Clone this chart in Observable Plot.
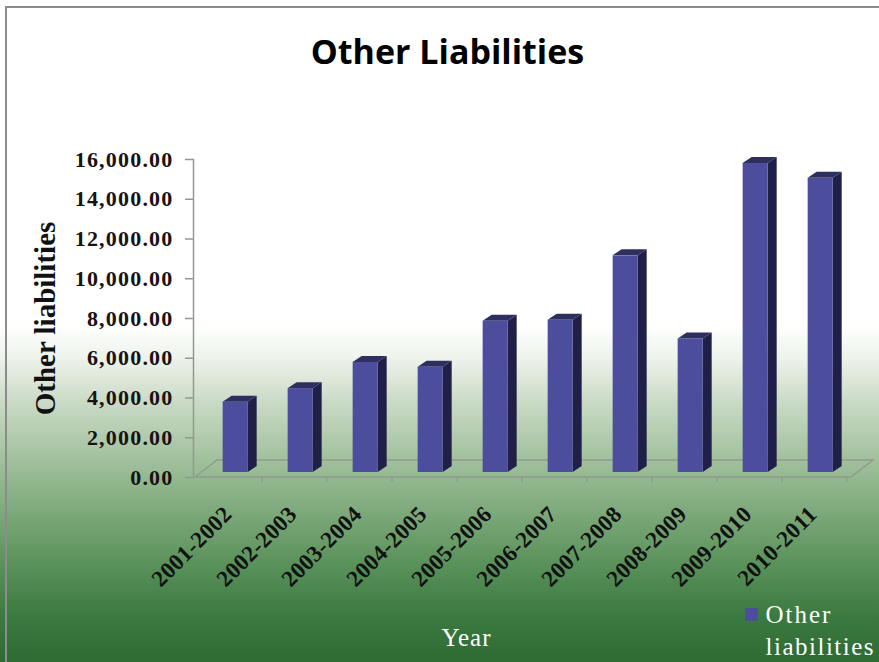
<!DOCTYPE html>
<html><head><meta charset="utf-8">
<script src="https://cdn.jsdelivr.net/npm/d3@7"></script>
<script src="https://cdn.jsdelivr.net/npm/@observablehq/plot@0.6"></script>
<style>
html,body{margin:0;padding:0;background:#fff;}
#wrap{position:relative;width:879px;height:662px;overflow:hidden;
background:linear-gradient(to bottom,#ffffff 0%,#ffffff 49%,#eef3ec 54%,#c9d9c4 61%,#95b991 72%,#5f955f 84%,#3b7a40 93%,#2e6b33 100%);}
#border{position:absolute;left:5px;top:6px;width:900px;height:700px;border-left:2px solid #8c8c8c;border-top:2px solid #8c8c8c;}
#wrap svg{position:absolute;left:0;top:0;background:transparent;}
</style></head><body><div id="wrap"><div id="border"></div></div>
<script>
const years = ["2001-2002","2002-2003","2003-2004","2004-2005","2005-2006","2006-2007","2007-2008","2008-2009","2009-2010","2010-2011"];
const values = [3540,4220,5540,5300,7610,7660,10900,6720,15550,14800];
const yTicks = [0,2000,4000,6000,8000,10000,12000,14000,16000];
const title = "Other Liabilities";
const xTitle = "Year";
const yTitle = "Other liabilities";
const legendLines = ["Other","liabilities"];

const data = years.map((year,i)=>({year, value: values[i]}));

const FRONT="#4d4d9e", SIDE="#1f1f48", TOP="#2f2f5f";

function bars3d(index, scales, channels, dimensions, context) {
  const g = d3.create("svg:g");
  const bw = scales.x.bandwidth();
  const dx = 9, dy = 6;
  for (const i of index) {
    const xl = channels.x[i] + bw*0.41;
    const w = bw*0.385;
    const base = channels.y1[i] - 5;
    const top = channels.y2[i] - 5;
    g.append("path").attr("d",`M${xl+w},${base}L${xl+w+dx},${base-dy}L${xl+w+dx},${top-dy}L${xl+w},${top}Z`).attr("fill",SIDE);
    g.append("path").attr("d",`M${xl},${top}L${xl+dx},${top-dy}L${xl+w+dx},${top-dy}L${xl+w},${top}Z`).attr("fill",TOP);
    g.append("rect").attr("x",xl).attr("y",top).attr("width",w).attr("height",base-top).attr("fill",FRONT);
  }
  return g.node();
}

function floor(index, scales, channels, dimensions, context) {
  const g = d3.create("svg:g").attr("fill","none").attr("stroke","#8f9c8c").attr("stroke-width",1.5);
  const y0 = scales.y(0);
  const [xa, xb] = scales.x.range();
  const bw = scales.x.bandwidth();
  const ox = 22, oy = 17;
  g.append("path").attr("d",`M${xa+2},${y0}L${xa+2+ox},${y0-oy}L${xb+2+ox},${y0-oy}L${xb+2},${y0}Z`);
  for (const c of scales.x.domain()) {
    const xe = scales.x(c) + bw + 1;
    g.append("line").attr("x1",xe).attr("x2",xe).attr("y1",y0).attr("y2",y0+5);
  }
  return g.node();
}

const serif = "'Liberation Serif','Times New Roman',serif";

const chart = Plot.plot({
  width: 879, height: 662,
  marginTop: 159, marginBottom: 185, marginLeft: 193, marginRight: 30,
  style: {background: "transparent", overflow: "visible"},
  x: {domain: years, padding: 0, axis: null},
  y: {domain: [0, 16000], axis: null},
  marks: [
    Plot.ruleY([0], {render: floor}),
    Plot.frame({anchor: "left", stroke: "#8f9c8c", strokeWidth: 1.5}),
    Plot.axisY(yTicks, {tickSize: 8, text: null, label: null, stroke: "#8f9c8c", strokeWidth: 1.5}),
    Plot.axisY(yTicks, {tickSize: 0, tickPadding: 20, tickFormat: d3.format(",.2f"), fontSize: 22, fontWeight: "bold", fontFamily: serif, fill: "#1a1212", label: null}),
    Plot.axisX(years, {tickSize: 0, tickRotate: -45, tickPadding: 33, dx: -1, fontSize: 23, fontWeight: "bold", fontFamily: serif, fill: "#111", label: null}),
    Plot.barY(data, {x: "year", y: "value", render: bars3d}),
    Plot.text([title], {frameAnchor: "top", lineAnchor: "middle", dx: -74, dy: -106, fontSize: 34, fontWeight: "bold", fontFamily: "'Open Sans',sans-serif", fill: "#000"}),
    Plot.text([yTitle], {frameAnchor: "left", textAnchor: "middle", lineAnchor: "middle", rotate: -90, dx: -148, dy: 0, fontSize: 29, fontWeight: "bold", fontFamily: serif, fill: "#111"}),
    Plot.text([xTitle], {frameAnchor: "bottom", lineAnchor: "middle", dx: -55, dy: 160, fontSize: 25, fontFamily: serif, fill: "#fff"}),
    Plot.dot([0], {frameAnchor: "bottom-right", dx: -98, dy: 137, symbol: "square", r: 7.3, fill: FRONT, stroke: null}),
    Plot.text([legendLines[0]], {frameAnchor: "bottom-right", lineAnchor: "middle", dx: -84, dy: 137, textAnchor: "start", fontSize: 25, fontFamily: serif, fill: "#fff"}),
    Plot.text([legendLines[1]], {frameAnchor: "bottom-right", lineAnchor: "middle", dx: -84, dy: 169, textAnchor: "start", fontSize: 25, fontFamily: serif, fill: "#fff"})
  ]
});
const svg = d3.select(chart);
svg.selectAll("text").each(function() {
  const t = this.textContent;
  if (/^\d[\d,]*\.00$/.test(t)) this.style.letterSpacing = "1.2px";
  if (/^\d{4}-\d{4}$/.test(t)) this.style.letterSpacing = "0.3px";
  if (t === legendLines[0]) this.style.letterSpacing = "2px";
  if (t === legendLines[1]) this.style.letterSpacing = "1.5px";
  if (t === xTitle) this.style.letterSpacing = "1px";
});
document.getElementById("wrap").appendChild(chart);
</script>
</body></html>
